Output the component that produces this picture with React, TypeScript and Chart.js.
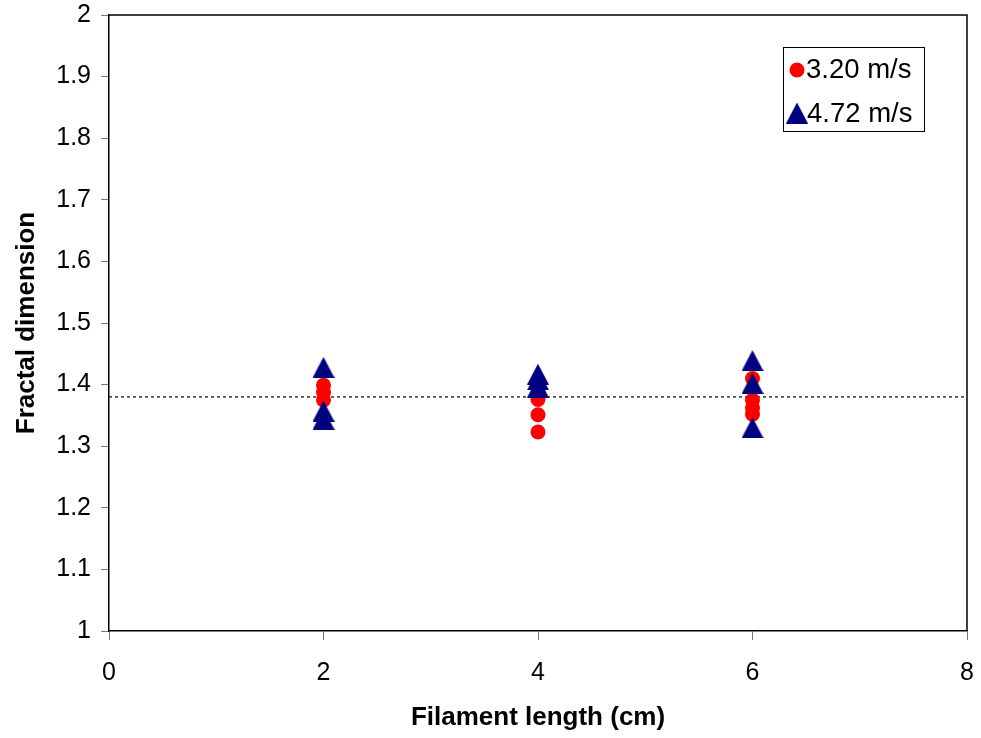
import React, { useEffect, useRef } from 'react';
import { Chart, registerables } from 'chart.js';

Chart.register(...registerables);

// ---- data ----
const SERIES_320_LABEL = '3.20 m/s';
const SERIES_320_X = [2, 2, 2, 4, 4, 4, 6, 6, 6, 6];
const SERIES_320_Y = [1.399, 1.387, 1.375, 1.376, 1.351, 1.323, 1.41, 1.375, 1.362, 1.352];

const SERIES_472_LABEL = '4.72 m/s';
const SERIES_472_X = [2, 2, 2, 4, 4, 4, 6, 6, 6];
const SERIES_472_Y = [1.428, 1.357, 1.344, 1.417, 1.408, 1.396, 1.439, 1.402, 1.33];

const MEAN_LINE_X = [0, 8];
const MEAN_LINE_Y = [1.38, 1.38];

const X_TICKS = [0, 2, 4, 6, 8];
const Y_TICKS = [1, 1.1, 1.2, 1.3, 1.4, 1.5, 1.6, 1.7, 1.8, 1.9, 2];

const X_TITLE = 'Filament length (cm)';
const Y_TITLE = 'Fractal dimension';

const RED = '#FF0000';
const NAVY = '#000080';
const FONT = '"Liberation Sans", Arial, sans-serif';

function makeTriangle(w: number, h: number, color: string) {
  const c = document.createElement('canvas');
  c.width = w;
  c.height = h;
  const ctx = c.getContext('2d')!;
  ctx.fillStyle = color;
  ctx.beginPath();
  ctx.moveTo(w / 2, 0);
  ctx.lineTo(w, h);
  ctx.lineTo(0, h);
  ctx.closePath();
  ctx.fill();
  return c;
}

export default function App() {
  const ref = useRef<HTMLCanvasElement | null>(null);

  useEffect(() => {
    if (!ref.current) return;
    const tri = makeTriangle(22, 21, NAVY);

    const framePlugin = {
      id: 'frame',
      afterDatasetsDraw(chart: any) {
        const { ctx, chartArea: a } = chart;
        ctx.save();
        ctx.strokeStyle = '#000';
        ctx.lineWidth = 1.5;
        ctx.beginPath();
        ctx.moveTo(a.left, a.top);
        ctx.lineTo(a.right, a.top);
        ctx.lineTo(a.right, a.bottom);
        ctx.stroke();
        ctx.restore();
      },
    };

    const legendPlugin = {
      id: 'boxLegend',
      afterDraw(chart: any) {
        const { ctx } = chart;
        ctx.save();
        const bx = 783, by = 47, bw = 141, bh = 84;
        ctx.fillStyle = '#fff';
        ctx.fillRect(bx, by, bw, bh);
        ctx.strokeStyle = '#000';
        ctx.lineWidth = 1;
        ctx.strokeRect(bx + 0.5, by + 0.5, bw, bh);
        ctx.fillStyle = RED;
        ctx.beginPath();
        ctx.arc(797, 70, 7.5, 0, Math.PI * 2);
        ctx.fill();
        ctx.drawImage(tri, 797 - 11, 113 - 10.5);
        ctx.fillStyle = '#000';
        ctx.font = `27.5px ${FONT}`;
        ctx.textBaseline = 'middle';
        ctx.textAlign = 'left';
        ctx.fillText(SERIES_320_LABEL, 806, 70);
        ctx.fillText(SERIES_472_LABEL, 807, 114);
        ctx.restore();
      },
    };

    const chart = new Chart(ref.current, {
      type: 'scatter',
      data: {
        datasets: [
          {
            label: SERIES_472_LABEL,
            data: SERIES_472_X.map((x, i) => ({ x, y: SERIES_472_Y[i] })),
            pointStyle: tri as any,
            backgroundColor: NAVY,
            borderColor: NAVY,
            order: 0,
          },
          {
            label: SERIES_320_LABEL,
            data: SERIES_320_X.map((x, i) => ({ x, y: SERIES_320_Y[i] })),
            pointStyle: 'circle',
            pointRadius: 7.5,
            backgroundColor: RED,
            borderColor: RED,
            borderWidth: 0,
            order: 1,
          },
          {
            type: 'line',
            label: 'mean',
            data: MEAN_LINE_X.map((x, i) => ({ x, y: MEAN_LINE_Y[i] })),
            borderColor: '#000',
            borderWidth: 1.2,
            borderDash: [3, 3],
            pointRadius: 0,
            showLine: true,
            fill: false,
            order: 2,
          } as any,
        ],
      },
      options: {
        animation: false,
        responsive: false,
        maintainAspectRatio: false,
        layout: { padding: { top: 15, right: 14, left: 0, bottom: 0 } },
        plugins: {
          legend: { display: false },
          tooltip: { enabled: false },
        },
        scales: {
          x: {
            type: 'linear',
            min: 0,
            max: 8,
            afterBuildTicks: (s: any) => {
              s.ticks = X_TICKS.map((v) => ({ value: v }));
            },
            afterFit: (s: any) => {
              s.height = 107;
              s.paddingLeft = 0;
              s.paddingRight = 0;
            },
            ticks: {
              color: '#000',
              font: { family: FONT, size: 25 },
              padding: 18,
              maxRotation: 0,
              callback: (v: any) => String(v),
            },
            grid: {
              drawOnChartArea: false,
              drawTicks: true,
              tickLength: 9,
              color: '#777',
              lineWidth: 1,
            },
            border: { display: true, color: '#000', width: 1.5 },
            title: {
              display: true,
              text: X_TITLE,
              color: '#000',
              font: { family: FONT, size: 26, weight: 'bold' },
              padding: { top: 0, bottom: 5 },
            },
          },
          y: {
            type: 'linear',
            min: 1,
            max: 2,
            afterBuildTicks: (s: any) => {
              s.ticks = Y_TICKS.map((v) => ({ value: v }));
            },
            afterFit: (s: any) => {
              s.width = 109;
              s.paddingTop = 0;
              s.paddingBottom = 0;
            },
            ticks: {
              color: '#000',
              font: { family: FONT, size: 25 },
              padding: 10,
              callback: (v: any) => String(Number(Number(v).toFixed(1))),
            },
            grid: {
              drawOnChartArea: false,
              drawTicks: true,
              tickLength: 8,
              color: '#777',
              lineWidth: 1,
            },
            border: { display: true, color: '#000', width: 1.5 },
            title: {
              display: true,
              text: Y_TITLE,
              color: '#000',
              font: { family: FONT, size: 26, weight: 'bold' },
              padding: { top: 11, bottom: 0 },
            },
          },
        },
      },
      plugins: [framePlugin, legendPlugin],
    });

    return () => chart.destroy();
  }, []);

  return (
    <div style={{ position: 'absolute', left: 0, top: 0, width: 981, height: 738, background: '#fff' }}>
      <canvas ref={ref} width={981} height={738} style={{ display: 'block', width: 981, height: 738 }} />
    </div>
  );
}
